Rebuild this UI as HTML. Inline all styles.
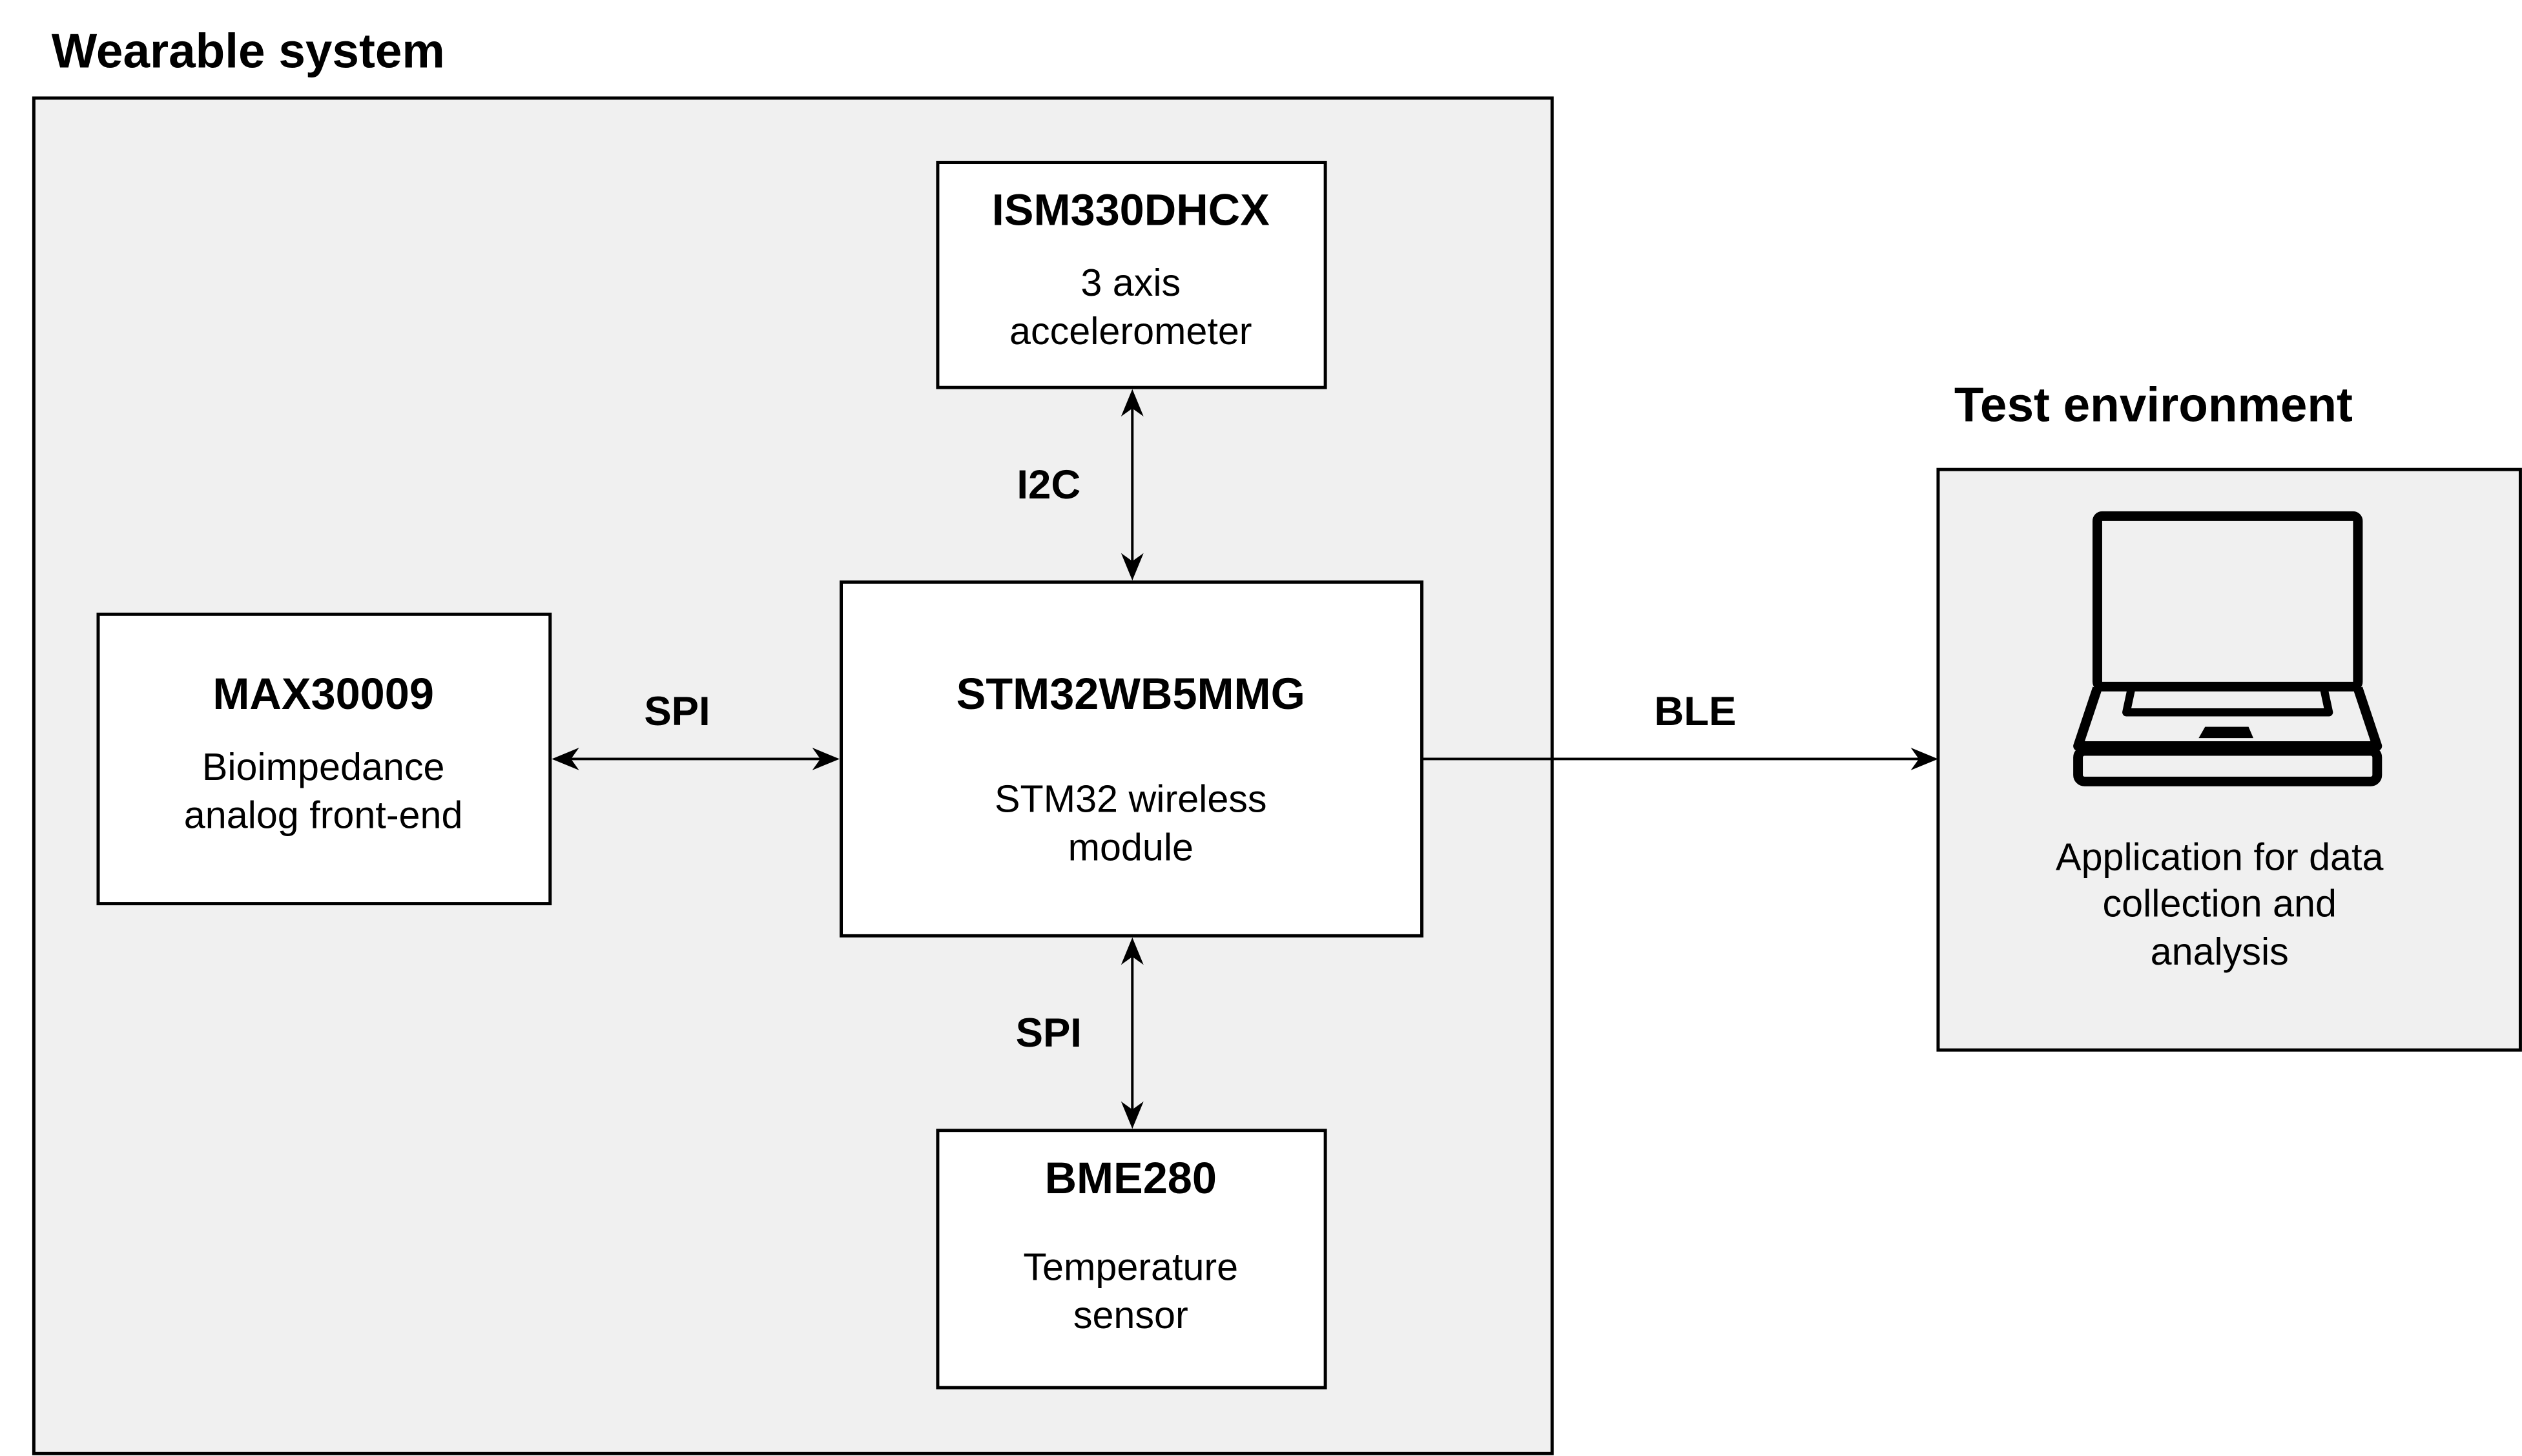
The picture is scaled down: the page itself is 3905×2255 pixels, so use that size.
<!DOCTYPE html>
<html><head><meta charset="utf-8"><style>
html,body{margin:0;padding:0;background:#fff;}
svg{display:block;}
text{font-family:"Liberation Sans",Arial,sans-serif;fill:#000;}
.b{font-weight:bold;font-size:27.5px;}
.l{font-weight:bold;font-size:25.5px;}
.n{font-size:23.8px;}
.h{font-weight:bold;font-size:30px;}
</style></head><body>
<svg width="3905" height="2255" viewBox="0 0 1568 905.5" xmlns="http://www.w3.org/2000/svg">
<rect width="1568" height="906" fill="#fff"/>
<text class="h" x="32" y="42">Wearable system</text>
<rect x="21" y="61" width="944" height="843" fill="#f0f0f0" stroke="#000" stroke-width="2"/>

<rect x="583" y="101" width="241" height="140" fill="#fff" stroke="#000" stroke-width="2"/>
<text class="b" x="703" y="140" text-anchor="middle">ISM330DHCX</text>
<text class="n" x="703" y="184" text-anchor="middle">3 axis</text>
<text class="n" x="703" y="214" text-anchor="middle">accelerometer</text>

<rect x="523" y="362" width="361" height="220" fill="#fff" stroke="#000" stroke-width="2"/>
<text class="b" x="703" y="441" text-anchor="middle">STM32WB5MMG</text>
<text class="n" x="703" y="505" text-anchor="middle">STM32 wireless</text>
<text class="n" x="703" y="535" text-anchor="middle">module</text>

<rect x="61" y="382" width="281" height="180" fill="#fff" stroke="#000" stroke-width="2"/>
<text class="b" x="201" y="441" text-anchor="middle">MAX30009</text>
<text class="n" x="201" y="485" text-anchor="middle">Bioimpedance</text>
<text class="n" x="201" y="515" text-anchor="middle">analog front-end</text>

<rect x="583" y="703" width="241" height="160" fill="#fff" stroke="#000" stroke-width="2"/>
<text class="b" x="703" y="742" text-anchor="middle">BME280</text>
<text class="n" x="703" y="796" text-anchor="middle">Temperature</text>
<text class="n" x="703" y="826" text-anchor="middle">sensor</text>

<g stroke="#000" stroke-width="1.6" fill="none">
<line x1="704" y1="248" x2="704" y2="355"/>
<line x1="349" y1="472" x2="516" y2="472"/>
<line x1="704" y1="589" x2="704" y2="696"/>
<line x1="884" y1="472" x2="1198" y2="472"/>
</g>
<g fill="#000">
<polygon points="704,242 697,259 704,254 711,259"/>
<polygon points="704,361 697,344 704,349 711,344"/>
<polygon points="343,472 360,465 355,472 360,479"/>
<polygon points="522,472 505,465 510,472 505,479"/>
<polygon points="704,583 697,600 704,595 711,600"/>
<polygon points="704,702 697,685 704,690 711,685"/>
<polygon points="1205,472 1188,465 1193,472 1188,479"/>
</g>
<text class="l" x="652" y="310" text-anchor="middle">I2C</text>
<text class="l" x="421" y="451" text-anchor="middle">SPI</text>
<text class="l" x="652" y="651" text-anchor="middle">SPI</text>
<text class="l" x="1054" y="451" text-anchor="middle">BLE</text>

<text class="h" x="1215" y="262">Test environment</text>
<rect x="1205" y="292" width="362" height="361" fill="#f0f0f0" stroke="#000" stroke-width="2"/>
<g stroke="#000" stroke-width="6" fill="none" stroke-linejoin="round">
<rect x="1304" y="321" width="162" height="106" rx="3"/>
<path d="M1304,428 L1292,464 L1478,464 L1466,428"/>
<rect x="1292" y="467" width="186" height="19" rx="4"/>
<path d="M1325,429 L1322,443 L1448,443 L1445,429" stroke-width="5"/>
</g>
<polygon points="1371,452 1398,452 1401,459 1367,459" fill="#000"/>
<text class="n" x="1380" y="541" text-anchor="middle">Application for data</text>
<text class="n" x="1380" y="570" text-anchor="middle">collection and</text>
<text class="n" x="1380" y="600" text-anchor="middle">analysis</text>
</svg>
</body></html>
